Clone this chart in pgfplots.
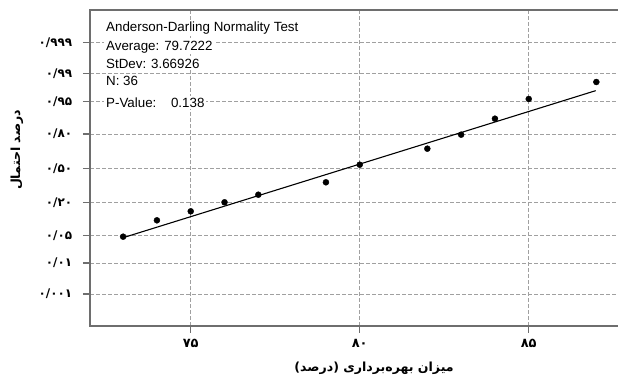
\documentclass[border=0pt]{standalone}
\usepackage{fontspec}
\setmainfont{Liberation Sans}
\newfontfamily\arabicfont[Script=Arabic]{DejaVu Sans}
\TeXXeTstate=1
\usepackage{pgfplots}
\pgfplotsset{compat=1.18}
\definecolor{gridgray}{HTML}{A0A0A0}
\definecolor{framegray}{HTML}{6E6E6E}
\begin{document}
\begin{tikzpicture}
\useasboundingbox (0,0) rectangle (618bp,376bp);
\begin{axis}[
  at={(90bp,50.3bp)}, anchor=south west,
  scale only axis, width=530bp, height=315.7bp,
  xmin=72.02, xmax=87.70, ymin=-3.867, ymax=3.889,
  xtick={75,80,85},
  xticklabels={\mbox{۷۵},\mbox{۸۰},\mbox{۸۵}},
  ytick={-3.0902,-2.3263,-1.6449,-0.8416,0,0.8416,1.6449,2.3263,3.0902},
  yticklabels={\mbox{۰/۰۰۱},\mbox{۰/۰۱},\mbox{۰/۰۵},\mbox{۰/۲۰},\mbox{۰/۵۰},\mbox{۰/۸۰},\mbox{۰/۹۵},\mbox{۰/۹۹},\mbox{۰/۹۹۹}},
  xtick pos=left, ytick pos=left,
  tick align=outside, major tick length=7bp,
  grid=major,
  major grid style={gridgray, line width=0.8bp, dash pattern=on 3.5bp off 2.5bp},
  axis line style={framegray, line width=2bp},
  tick style={framegray, line width=1.2bp},
  xticklabel style={font=\arabicfont\bfseries\fontsize{13}{15}\selectfont, yshift=-3bp},
  yticklabel style={font=\arabicfont\bfseries\fontsize{12}{14}\selectfont, xshift=-7.3bp},
  every axis x label/.style={at={(axis description cs:0.536,-0.134)}, anchor=center,
     font=\arabicfont\bfseries\fontsize{12.6}{15}\selectfont},
  every axis y label/.style={at={(axis description cs:-0.138,0.5565)}, anchor=center, rotate=90,
     font=\arabicfont\bfseries\fontsize{12.6}{15}\selectfont},
  xlabel={\beginR میزان بهره‌برداری (درصد)\endR},
  ylabel={\beginR درصد احتمال\endR},
  clip=false,
]
\addplot[black, line width=1.1bp] coordinates {(73.0,-1.705) (86.98,1.907)};
\addplot[only marks, mark=*, mark size=3bp, black] coordinates {
(73,-1.68) (74,-1.278) (75,-1.057) (76,-0.835) (77,-0.649) (79,-0.344)
(80,0.088) (82,0.482) (83,0.826) (84,1.219) (85,1.703) (87,2.12)};
\begin{scope}[every node/.style={anchor=west, fill=white, inner xsep=2bp, inner ysep=1.5bp, font=\fontsize{13.4}{15}\selectfont}]
\node at (rel axis cs:0.0264,0.943) {Anderson-Darling Normality Test};
\node at (rel axis cs:0.0264,0.883) {Average: 79.7222};
\node at (rel axis cs:0.0264,0.829) {StDev: 3.66926};
\node at (rel axis cs:0.0264,0.775) {N: 36};
\node at (rel axis cs:0.0264,0.7065) {P-Value:\hspace{1.1em}0.138};
\end{scope}
\end{axis}
\end{tikzpicture}
\end{document}
